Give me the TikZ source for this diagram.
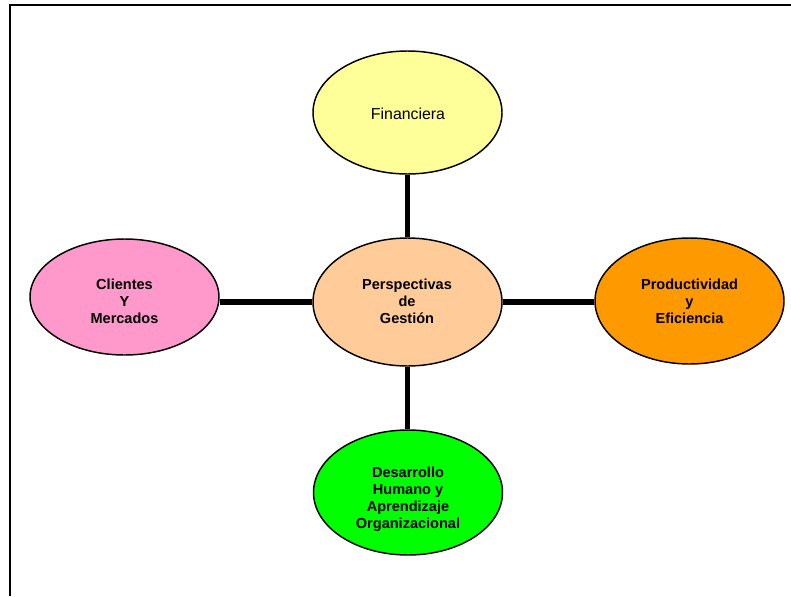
\documentclass[tikz,border=0pt]{standalone}
\usepackage{fontspec}
\setmainfont{Liberation Sans}
\usetikzlibrary{shapes.geometric}
\pgfdeclarelayer{bg}
\pgfsetlayers{bg,main}

\definecolor{finyellow}{HTML}{FFFF99}
\definecolor{peach}{HTML}{FFCC99}
\definecolor{pinkish}{HTML}{FF99CC}
\definecolor{orangeish}{HTML}{FF9900}
\definecolor{brightgreen}{HTML}{00FF00}

\tikzset{
  oval/.style={ellipse, draw=black, line width=1.1pt, inner sep=0pt,
    minimum width=189*0.75pt},
  boldtext/.style={align=center, inner sep=0pt,
    font=\fontsize{10.9}{12.8}\selectfont\bfseries},
  plaintext/.style={align=center, inner sep=0pt,
    font=\fontsize{11.9}{13.5}\selectfont},
  link/.style={line width=4pt, black},
  frame/.style={line width=1.6pt, black}
}

\begin{document}
\begin{tikzpicture}[x=0.75pt, y=-0.75pt]
  \useasboundingbox (0,0) rectangle (791,596);

  % page frame, left and top edges
  \draw[frame] (10,596) -- (10,5) -- (791,5);

  % the five perspectives
  \node[oval, fill=finyellow,   minimum height=123*0.75pt] (fin) at (407.5,112.5) {};
  \node[oval, fill=peach,       minimum height=128*0.75pt] (cen) at (407.5,302) {};
  \node[oval, fill=pinkish,     minimum height=116*0.75pt] (cli) at (124.5,297) {};
  \node[oval, fill=orangeish,   minimum height=126*0.75pt] (pro) at (689.5,301) {};
  \node[oval, fill=brightgreen, minimum height=125*0.75pt] (des) at (408,492.5) {};

  % labels
  \node[plaintext] (tfin) at (408,114) {Financiera};
  \node[boldtext]  (tcen) at (407,301.5) {Perspectivas\\de\\Gestión};
  \node[boldtext]  (tcli) at (124.5,301.5) {Clientes\\Y\\Mercados};
  \node[boldtext]  (tpro) at (689.5,301.5) {Productividad\\y\\Eficiencia};
  \node[boldtext]  (tdes) at (408,499.5) {Desarrollo\\Humano y\\Aprendizaje\\Organizacional};

  % connectors from the hub
  \begin{pgfonlayer}{bg}
    \draw[link] (cen.north) -- (cen.north |- fin.south);
    \draw[link] (cen.south) -- (cen.south |- des.north);
    \draw[link] (cen.west) -- (cen.west -| cli.east);
    \draw[link] (cen.east) -- (cen.east -| pro.west);
  \end{pgfonlayer}
\end{tikzpicture}
\end{document}
